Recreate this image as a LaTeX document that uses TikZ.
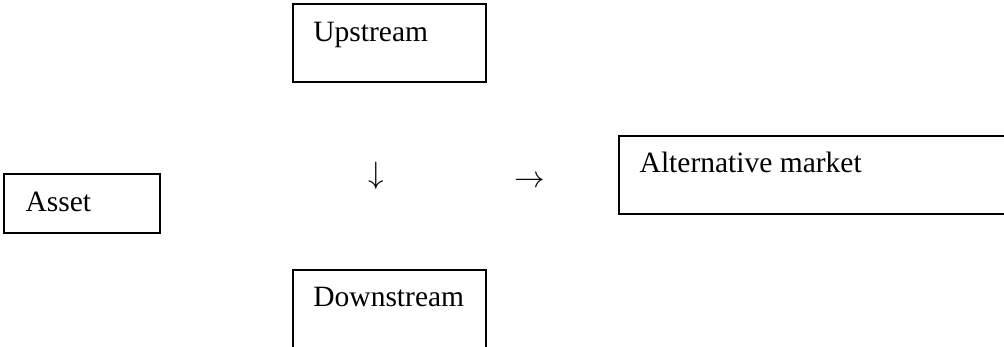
\documentclass[tikz,border=0pt]{standalone}
\usepackage{fontspec}
\setmainfont{Liberation Serif}
\usetikzlibrary{calc}
\begin{document}
\begin{tikzpicture}[x=1pt,y=-1pt,
  box/.style={draw=black, line width=1.8pt, rectangle, inner sep=0pt, anchor=north west},
  lbl/.style={anchor=base west, inner sep=0pt, font=\fontsize{29.5}{35}\selectfont},
  sym/.style={anchor=center, inner sep=0pt, font=\fontsize{10}{12}\selectfont}]
  \useasboundingbox (0,0) rectangle (1004,347);
  % boxes
  \node[box, minimum width=193.3pt, minimum height=78pt] (up) at (291.7,3) {};
  \node[box, minimum width=155.4pt, minimum height=58.7pt] (asset) at (3.3,173.3) {};
  \node[box, minimum width=385.7pt, minimum height=78pt] (alt) at (618,135) {};
  \node[box, minimum width=193.3pt, minimum height=78pt] (down) at (291.7,269) {};
  % labels inside the boxes
  \node[lbl] (upT) at ($(up.north west)+(21.5,38.5)$) {Upstream};
  \node[lbl] (assetT) at ($(asset.north west)+(22,38)$) {Asset};
  \node[lbl] (altT) at ($(alt.north west)+(21.5,38)$) {Alternative market};
  \node[lbl] (downT) at ($(down.north west)+(21.5,38)$) {Downstream};
  % arrow glyphs between the boxes
  \node[sym] (darr) at (376,176) {\scalebox{3.1}{$\downarrow$}};
  \node[sym] (rarr) at (529.5,182) {\scalebox{3.05}{$\rightarrow$}};
\end{tikzpicture}
\end{document}
